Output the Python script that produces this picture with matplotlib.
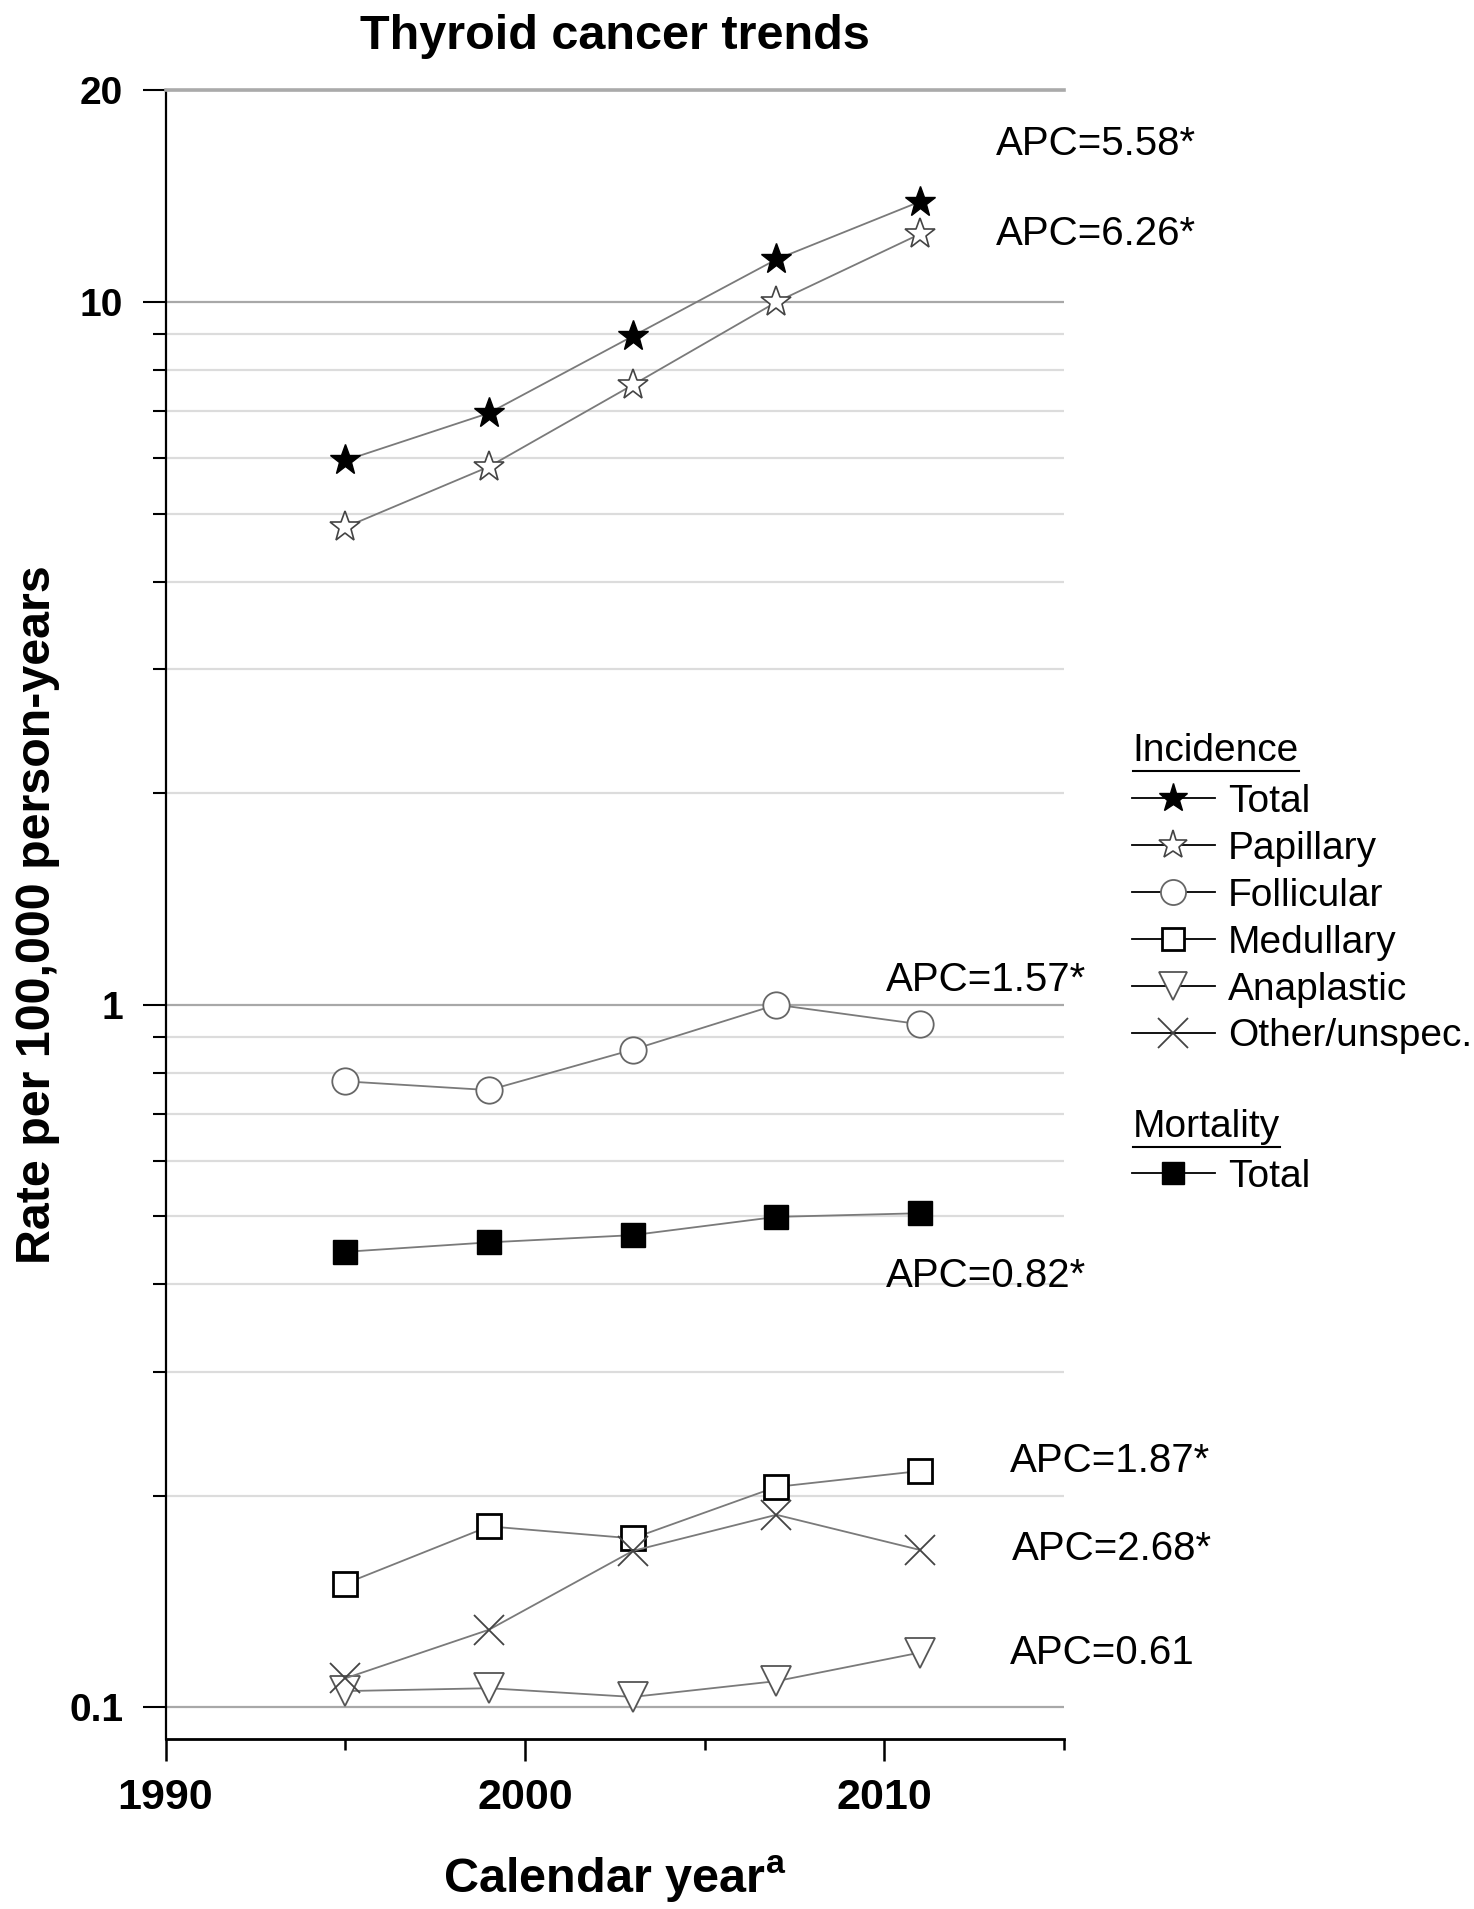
import matplotlib
matplotlib.use("Agg")
import matplotlib.pyplot as plt
from matplotlib.lines import Line2D
from matplotlib.ticker import FixedLocator, NullFormatter

years = [1995, 1999, 2003, 2007, 2011]

# incidence / mortality per 100,000 person-years
inc_total = [5.95, 6.95, 8.94, 11.5, 13.9]
inc_papillary = [4.78, 5.83, 7.62, 10.0, 12.5]
inc_follicular = [0.778, 0.756, 0.863, 1.0, 0.938]
inc_medullary = [0.150, 0.181, 0.174, 0.206, 0.217]
inc_anaplastic = [0.1055, 0.1065, 0.1035, 0.109, 0.1197]
inc_other = [0.110, 0.129, 0.167, 0.188, 0.1675]
mort_total = [0.445, 0.459, 0.470, 0.499, 0.505]

inc_names = ["Total", "Papillary", "Follicular", "Medullary", "Anaplastic", "Other/unspec."]
mort_names = ["Total"]

# APC text for: total, papillary, follicular, mortality, medullary, other, anaplastic
apc_labels = ["APC=5.58*", "APC=6.26*", "APC=1.57*", "APC=0.82*",
              "APC=1.87*", "APC=2.68*", "APC=0.61"]

y_ticks = [0.1, 1, 10, 20]
y_ticklabels = ["0.1", "1", "10", "20"]

narrow = ["Liberation Sans Narrow", "Liberation Sans", "DejaVu Sans"]
plain = ["Liberation Sans", "DejaVu Sans"]

fig = plt.figure(figsize=(14.74, 19.09), dpi=100)
ax = fig.add_axes([0.1123, 0.0891, 0.6095, 0.8635])

line_kw = dict(color="#7a7a7a", lw=1.3, zorder=3)
styles = [
    dict(marker="*", ms=23, mfc="black", mec="black"),
    dict(marker="*", ms=23, mfc="white", mec="#444444", mew=1.2),
    dict(marker="o", ms=19, mfc="white", mec="#666666", mew=1.3),
    dict(marker="s", ms=17, mfc="white", mec="black", mew=2.0),
    dict(marker="v", ms=21, mfc="white", mec="#555555", mew=1.3),
    dict(marker="x", ms=22, mfc="none", mec="#444444", mew=1.3),
]
mort_style = dict(marker="s", ms=17, mfc="black", mec="black")

series = [inc_total, inc_papillary, inc_follicular, inc_medullary, inc_anaplastic, inc_other]
for vals, st in zip(series, styles):
    ax.plot(years, vals, **line_kw, **st)
ax.plot(years, mort_total, **line_kw, **mort_style)

ax.set_yscale("log")
ax.set_xlim(1990, 2015)
ax.set_ylim(0.0902, 20)

# gridlines and ticks
ax.yaxis.set_major_locator(FixedLocator(y_ticks))
ax.yaxis.set_minor_locator(FixedLocator([m * d for d in (0.1, 1) for m in range(2, 10)]))
ax.yaxis.set_minor_formatter(NullFormatter())
ax.set_yticklabels(y_ticklabels)
ax.grid(True, axis="y", which="major", color="#a8a8a8", lw=1.6, zorder=0)
ax.grid(True, axis="y", which="minor", color="#dcdcdc", lw=1.6, zorder=0)
ax.tick_params(axis="y", which="minor", direction="out", length=9.5, width=1.5)
ax.tick_params(axis="y", which="major", direction="out", length=16.5, width=1.5,
               labelsize=28, pad=14)

ax.xaxis.set_major_locator(FixedLocator([1990, 2000, 2010]))
ax.xaxis.set_minor_locator(FixedLocator([1995, 2005, 2015]))
ax.tick_params(axis="x", which="major", direction="out", length=16, width=1.8,
               labelsize=31, pad=12)
ax.tick_params(axis="x", which="minor", direction="out", length=8, width=1.8)

for lab in ax.get_xticklabels() + ax.get_yticklabels():
    lab.set_family(narrow)
    lab.set_fontweight("bold")

ax.spines["right"].set_visible(False)
ax.spines["top"].set_color("#aaaaaa")
ax.spines["top"].set_linewidth(2.6)
ax.spines["left"].set_linewidth(1.6)
ax.spines["bottom"].set_linewidth(2.0)

ax.set_title("Thyroid cancer trends", family=narrow, fontweight="bold",
             fontsize=35, pad=30)
ax.set_xlabel("Calendar year$^{\\mathregular{a}}$", family=narrow, fontweight="bold",
              fontsize=35)
ax.xaxis.set_label_coords(0.5, -0.07)
ax.set_ylabel("Rate per 100,000 person-years", family=plain, fontweight="bold",
              fontsize=34.8)
ax.yaxis.set_label_coords(-0.118, 0.5)

# APC annotations
apc_pos = [(2013.1, 16.8), (2013.1, 12.5), (2010.05, 1.083), (2010.05, 0.411),
           (2013.5, 0.224), (2013.55, 0.168), (2013.5, 0.1197)]
for txt, (px, py) in zip(apc_labels, apc_pos):
    ax.text(px, py, txt, fontsize=29, family=plain, va="center", ha="left")

# legends
def make_handles(style_list):
    return [Line2D([], [], color="black", lw=1.3, **st) for st in style_list]

leg_kw = dict(frameon=False, handlelength=2.13, handletextpad=0.34, labelspacing=0.28,
              borderpad=0, borderaxespad=0, prop=dict(family=plain, size=28),
              bbox_transform=fig.transFigure, loc="upper left", markerscale=0.95)
leg1 = ax.legend(make_handles(styles), inc_names, bbox_to_anchor=(0.768, 0.5893), **leg_kw)
ax.add_artist(leg1)
leg2 = ax.legend(make_handles([mort_style]), mort_names, bbox_to_anchor=(0.768, 0.3930), **leg_kw)

heads = [fig.text(0.7685, 0.6064, "Incidence", fontsize=28, family=plain, va="center"),
         fig.text(0.7685, 0.4097, "Mortality", fontsize=28, family=plain, va="center")]
fig.canvas.draw()
inv = fig.transFigure.inverted()
for h in heads:
    bb = h.get_window_extent()
    (x0, y0), (x1, y1) = inv.transform([[bb.x0, bb.y0], [bb.x1, bb.y1]])
    fig.add_artist(Line2D([x0, x1], [y0 - 0.001, y0 - 0.001], color="black", lw=1.5,
                          transform=fig.transFigure))

fig.savefig("out.png", dpi=100)
